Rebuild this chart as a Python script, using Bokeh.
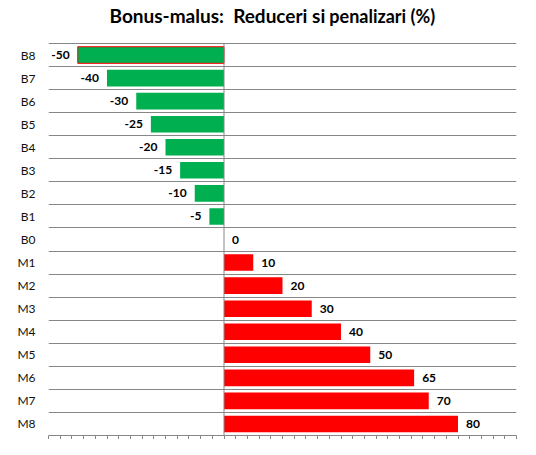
from bokeh.core.properties import value
from bokeh.embed import file_html
from bokeh.models import ColumnDataSource, FixedTicker, Label, Range1d
from bokeh.plotting import figure
from bokeh.resources import INLINE

# top-down, as on the chart
categories = ["B8", "B7", "B6", "B5", "B4", "B3", "B2", "B1", "B0",
              "M1", "M2", "M3", "M4", "M5", "M6", "M7", "M8"]
values = [-50, -40, -30, -25, -20, -15, -10, -5, 0,
          10, 20, 30, 40, 50, 65, 70, 80]

GREEN = "#00B050"
RED = "#FF0000"
GRID = "#878787"
FONT = "Lato"

n = len(categories)
ypos = [n - i - 0.5 for i in range(n)]
fill = [GREEN if v < 0 else RED for v in values]
edge_alpha = [1.0 if c == "B8" else 0.0 for c in categories]

src = ColumnDataSource(dict(y=ypos, v=values, fill=fill, ea=edge_alpha))

# frame runs up to the top of the figure so the title (drawn as labels) is not clipped
top = n * 435 / 392
p = figure(width=520, height=439, output_backend="svg", toolbar_location=None,
           x_range=Range1d(-60, 100), y_range=Range1d(0, top),
           min_border_left=48, min_border_right=4, min_border_top=0,
           min_border_bottom=0, outline_line_color=None)

p.hbar(y="y", left=0, right="v", height=0.72, fill_color="fill",
       line_color=RED, line_alpha="ea", line_width=1, source=src)

# category axis line at zero
p.segment(x0=[0], y0=[0], x1=[0], y1=[n], line_color=GRID, line_width=1)

neg = ColumnDataSource(dict(
    x=[v for v in values if v < 0], y=[y for v, y in zip(values, ypos) if v < 0],
    t=[str(v) for v in values if v < 0]))
pos = ColumnDataSource(dict(
    x=[v for v in values if v >= 0], y=[y for v, y in zip(values, ypos) if v >= 0],
    t=[str(v) for v in values if v >= 0]))
for s, align, off in [(neg, "right", -8), (pos, "left", 8)]:
    p.text(x="x", y="y", text="t", source=s, x_offset=off, text_align=align,
           text_baseline="middle", text_font=value(FONT), text_font_style="bold",
           text_font_size="12px", text_color="black")

# y axis: category names at row centres, grid on row boundaries
p.yaxis.ticker = FixedTicker(ticks=ypos)
p.yaxis.major_label_overrides = {y: c for y, c in zip(ypos, categories)}
p.yaxis.axis_line_color = None
p.yaxis.major_tick_line_color = None
p.yaxis.major_tick_out = 0
p.yaxis.minor_tick_line_color = None
p.yaxis.major_label_standoff = 13
p.yaxis.major_label_text_font = FONT
p.yaxis.major_label_text_font_size = "12px"
p.yaxis.major_label_text_color = "#111111"

p.ygrid.ticker = FixedTicker(ticks=list(range(n + 1)))
p.ygrid.grid_line_color = GRID
p.xgrid.grid_line_color = None

# x axis: unlabeled tick marks every 4 (minor ticks only, so no labels)
p.xaxis.ticker = FixedTicker(ticks=[], minor_ticks=list(range(-60, 101, 4)))
p.xaxis.axis_line_color = GRID
p.xaxis.major_tick_out = 4
p.xaxis.major_tick_in = 0
p.xaxis.minor_tick_line_color = GRID
p.xaxis.minor_tick_out = 4
p.xaxis.minor_tick_in = 0
p.xaxis.major_label_standoff = 0

# title in two sizes, like the original
t1 = Label(x=34.6, y=n + 0.72, text="Bonus-malus:\u00a0 Reduceri si", text_align="right",
           text_font=FONT, text_font_style="bold", text_font_size="19px",
           text_color="black")
t2 = Label(x=36.0, y=n + 0.72, text="penalizari (%)", text_align="left",
           text_font=FONT, text_font_style="bold", text_font_size="18px",
           text_color="black")
p.add_layout(t1)
p.add_layout(t2)

open("out.html", "w").write(file_html(p, INLINE))
